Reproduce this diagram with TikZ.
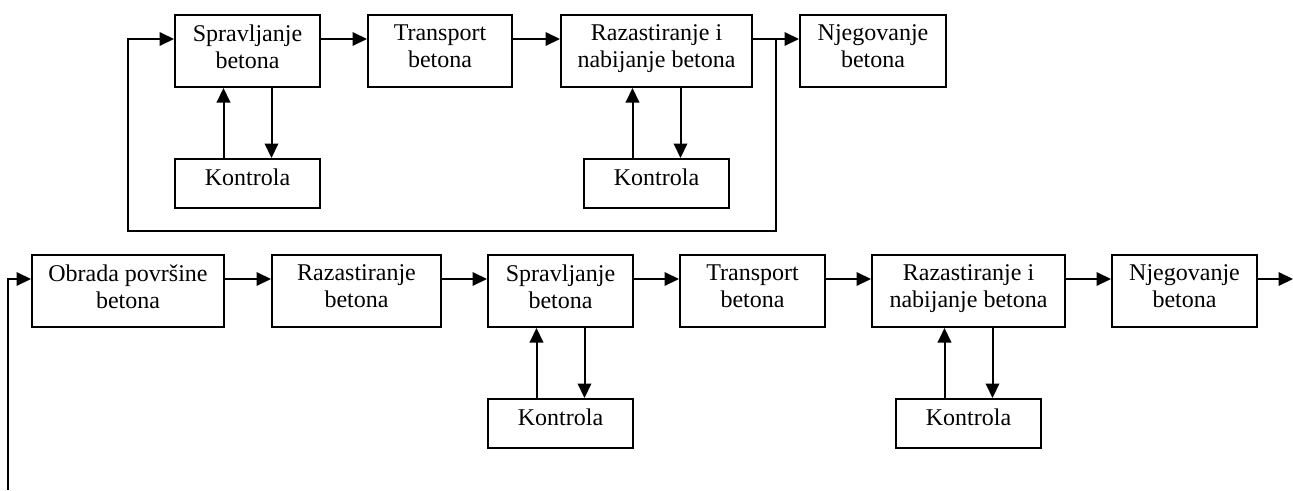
\documentclass[tikz,border=0pt]{standalone}
\usepackage{fontspec}
\setmainfont{Liberation Serif}
\usetikzlibrary{arrows.meta,calc}
\tikzset{
  box/.style={draw=black, line width=2pt, inner sep=0pt, minimum height=72pt},
  kbox/.style={draw=black, line width=2pt, inner sep=0pt, minimum width=145pt, minimum height=49pt},
  lbl/.style={anchor=north, align=center, inner sep=0pt, font=\fontsize{24}{27}\selectfont},
  arr/.style={line width=2pt, -{Triangle[length=14.5pt,width=13.5pt]}},
  ln/.style={line width=2pt}
}
\begin{document}
\begin{tikzpicture}[x=1pt,y=-1pt]
\useasboundingbox (0,0) rectangle (1293,490);
% top row
\node[box, minimum width=145pt] (s1) at (247.5,51) {};
\node[box, minimum width=144pt] (t1) at (440,51) {};
\node[box, minimum width=191pt] (r1) at (656.5,51) {};
\node[box, minimum width=146pt] (n1) at (873,51) {};
\node[kbox] (k1) at (247.5,183.5) {};
\node[kbox] (k2) at (656.5,183.5) {};
\node[lbl] (s1x) at ([yshift=-10.6pt]s1.north) {Spravljanje\\betona};
\node[lbl] (t1x) at ([yshift=-10.6pt]t1.north) {Transport\\betona};
\node[lbl] (r1x) at ([yshift=-10.6pt]r1.north) {Razastiranje i\\nabijanje betona};
\node[lbl] (n1x) at ([yshift=-10.6pt]n1.north) {Njegovanje\\betona};
\node[lbl] (k1x) at ([yshift=-10.6pt]k1.north) {Kontrola};
\node[lbl] (k2x) at ([yshift=-10.6pt]k2.north) {Kontrola};
\draw[arr] ([yshift=12pt]s1.east) -- ([yshift=12pt]t1.west);
\draw[arr] ([yshift=12pt]t1.east) -- ([yshift=12pt]r1.west);
\draw[arr] ([yshift=12pt]r1.east) -- ([yshift=12pt]n1.west);
\draw[arr] ([xshift=-24pt]k1.north) -- ([xshift=-24pt]s1.south);
\draw[arr] ([xshift=24pt]s1.south) -- ([xshift=24pt]k1.north);
\draw[arr] ([xshift=-24pt]k2.north) -- ([xshift=-24pt]r1.south);
\draw[arr] ([xshift=24pt]r1.south) -- ([xshift=24pt]k2.north);
\coordinate (j1) at ($([yshift=12pt]r1.east)!0.5!([yshift=12pt]n1.west)$);
\coordinate (lb) at (128,231);
\draw[arr] (j1) |- (lb) |- ([yshift=12pt]s1.west);
% bottom row
\node[box, minimum width=192pt] (o2) at (128,291) {};
\node[box, minimum width=169pt] (rb2) at (356.5,291) {};
\node[box, minimum width=145pt] (s2) at (560.5,291) {};
\node[box, minimum width=145pt] (t2) at (752.5,291) {};
\node[box, minimum width=193pt] (r2) at (968.5,291) {};
\node[box, minimum width=145pt] (n2) at (1184.5,291) {};
\node[kbox] (k3) at (560.5,423.5) {};
\node[kbox] (k4) at (968.5,423.5) {};
\node[lbl] (o2x) at ([yshift=-10.6pt]o2.north) {Obrada površine\\betona};
\node[lbl] (rb2x) at ([yshift=-10.6pt]rb2.north) {Razastiranje\\betona};
\node[lbl] (s2x) at ([yshift=-10.6pt]s2.north) {Spravljanje\\betona};
\node[lbl] (t2x) at ([yshift=-10.6pt]t2.north) {Transport\\betona};
\node[lbl] (r2x) at ([yshift=-10.6pt]r2.north) {Razastiranje i\\nabijanje betona};
\node[lbl] (n2x) at ([yshift=-10.6pt]n2.north) {Njegovanje\\betona};
\node[lbl] (k3x) at ([yshift=-10.6pt]k3.north) {Kontrola};
\node[lbl] (k4x) at ([yshift=-10.6pt]k4.north) {Kontrola};
\draw[arr] ([yshift=12pt]o2.east) -- ([yshift=12pt]rb2.west);
\draw[arr] ([yshift=12pt]rb2.east) -- ([yshift=12pt]s2.west);
\draw[arr] ([yshift=12pt]s2.east) -- ([yshift=12pt]t2.west);
\draw[arr] ([yshift=12pt]t2.east) -- ([yshift=12pt]r2.west);
\draw[arr] ([yshift=12pt]r2.east) -- ([yshift=12pt]n2.west);
\draw[arr] ([xshift=-24pt]k3.north) -- ([xshift=-24pt]s2.south);
\draw[arr] ([xshift=24pt]s2.south) -- ([xshift=24pt]k3.north);
\draw[arr] ([xshift=-24pt]k4.north) -- ([xshift=-24pt]r2.south);
\draw[arr] ([xshift=24pt]r2.south) -- ([xshift=24pt]k4.north);
\coordinate (st) at (8,490);
\draw[arr] (st) |- ([yshift=12pt]o2.west);
\coordinate (fin) at (1293,279);
\draw[arr] ([yshift=12pt]n2.east) -- (fin);
\end{tikzpicture}
\end{document}
